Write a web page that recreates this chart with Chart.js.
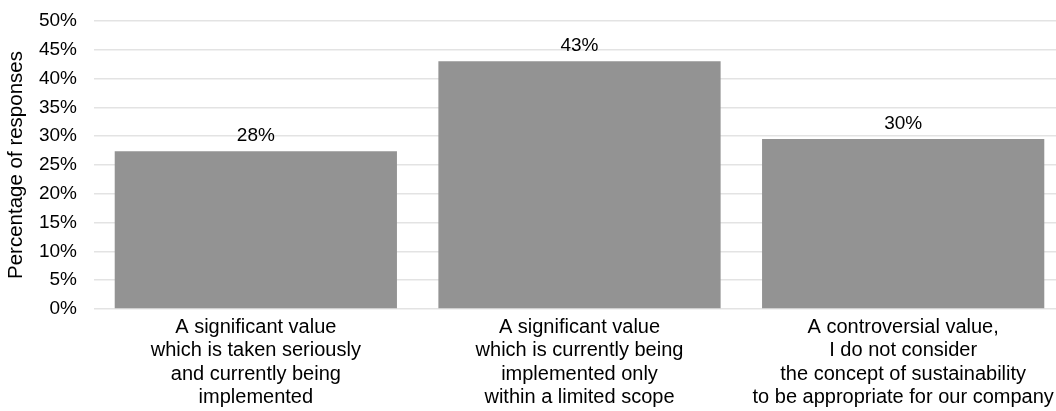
<!DOCTYPE html>
<html><head><meta charset="utf-8">
<script src="https://cdn.jsdelivr.net/npm/chart.js@4"></script>
<style>html,body{margin:0;padding:0;background:#fff;overflow:hidden}#wrap{width:1066px;height:411px}</style>
</head><body><div id="wrap"><canvas id="c"></canvas></div>
<script>
const categories = [
  ["A significant value","which is taken seriously","and currently being","implemented"],
  ["A significant value","which is currently being","implemented only","within a limited scope"],
  ["A controversial value,","I do not consider","the concept of sustainability","to be appropriate for our company"]
];
const values = [27.4, 43.0, 29.5];
const valueLabels = ["28%", "43%", "30%"];
const yTicks = [0,5,10,15,20,25,30,35,40,45,50];
const yTitle = "Percentage of responses";

const FONT = '"Liberation Sans", Arial, sans-serif';
const labelPlugin = {
  id: 'valLabels',
  afterDatasetsDraw(chart) {
    const ctx = chart.ctx;
    const meta = chart.getDatasetMeta(0);
    ctx.save();
    ctx.font = '19px ' + FONT;
    ctx.fillStyle = '#000';
    ctx.textAlign = 'center';
    ctx.textBaseline = 'alphabetic';
    meta.data.forEach((bar, i) => {
      ctx.fillText(valueLabels[i], bar.x, bar.y - 10);
    });
    ctx.restore();
  }
};

new Chart(document.getElementById('c'), {
  type: 'bar',
  data: { labels: categories, datasets: [{ data: values, backgroundColor: '#939393', categoryPercentage: 0.872, barPercentage: 1.0 }] },
  options: {
    responsive: true, maintainAspectRatio: false, animation: false,
    layout: { padding: { left: 0, right: 1, top: 21, bottom: 0 } },
    plugins: { legend: { display: false }, tooltip: { enabled: false } },
    scales: {
      x: {
        grid: { display: false, drawTicks: false }, border: { display: false },
        ticks: { color: '#000', font: { family: FONT, size: 20, lineHeight: 1.165 }, maxRotation: 0, autoSkip: false, padding: 7 },
        afterFit(axis) { axis.height = 102; axis.paddingLeft = 0; axis.paddingRight = 0; }
      },
      y: {
        min: 0, max: 50,
        afterBuildTicks(axis) { axis.ticks = yTicks.map(v => ({ value: v })); },
        grid: { color: '#e3e3e3', lineWidth: 1.5, drawTicks: false },
        border: { display: false },
        ticks: { color: '#000', font: { family: FONT, size: 19 }, padding: 17, callback: v => v + '%' },
        title: { display: true, text: yTitle, color: '#000', font: { family: FONT, size: 20.5 }, padding: { top: 4, bottom: 9 } },
        afterFit(axis) { axis.width = 94; axis.paddingTop = 0; axis.paddingBottom = 0; }
      }
    }
  },
  plugins: [labelPlugin]
});
</script></body></html>
